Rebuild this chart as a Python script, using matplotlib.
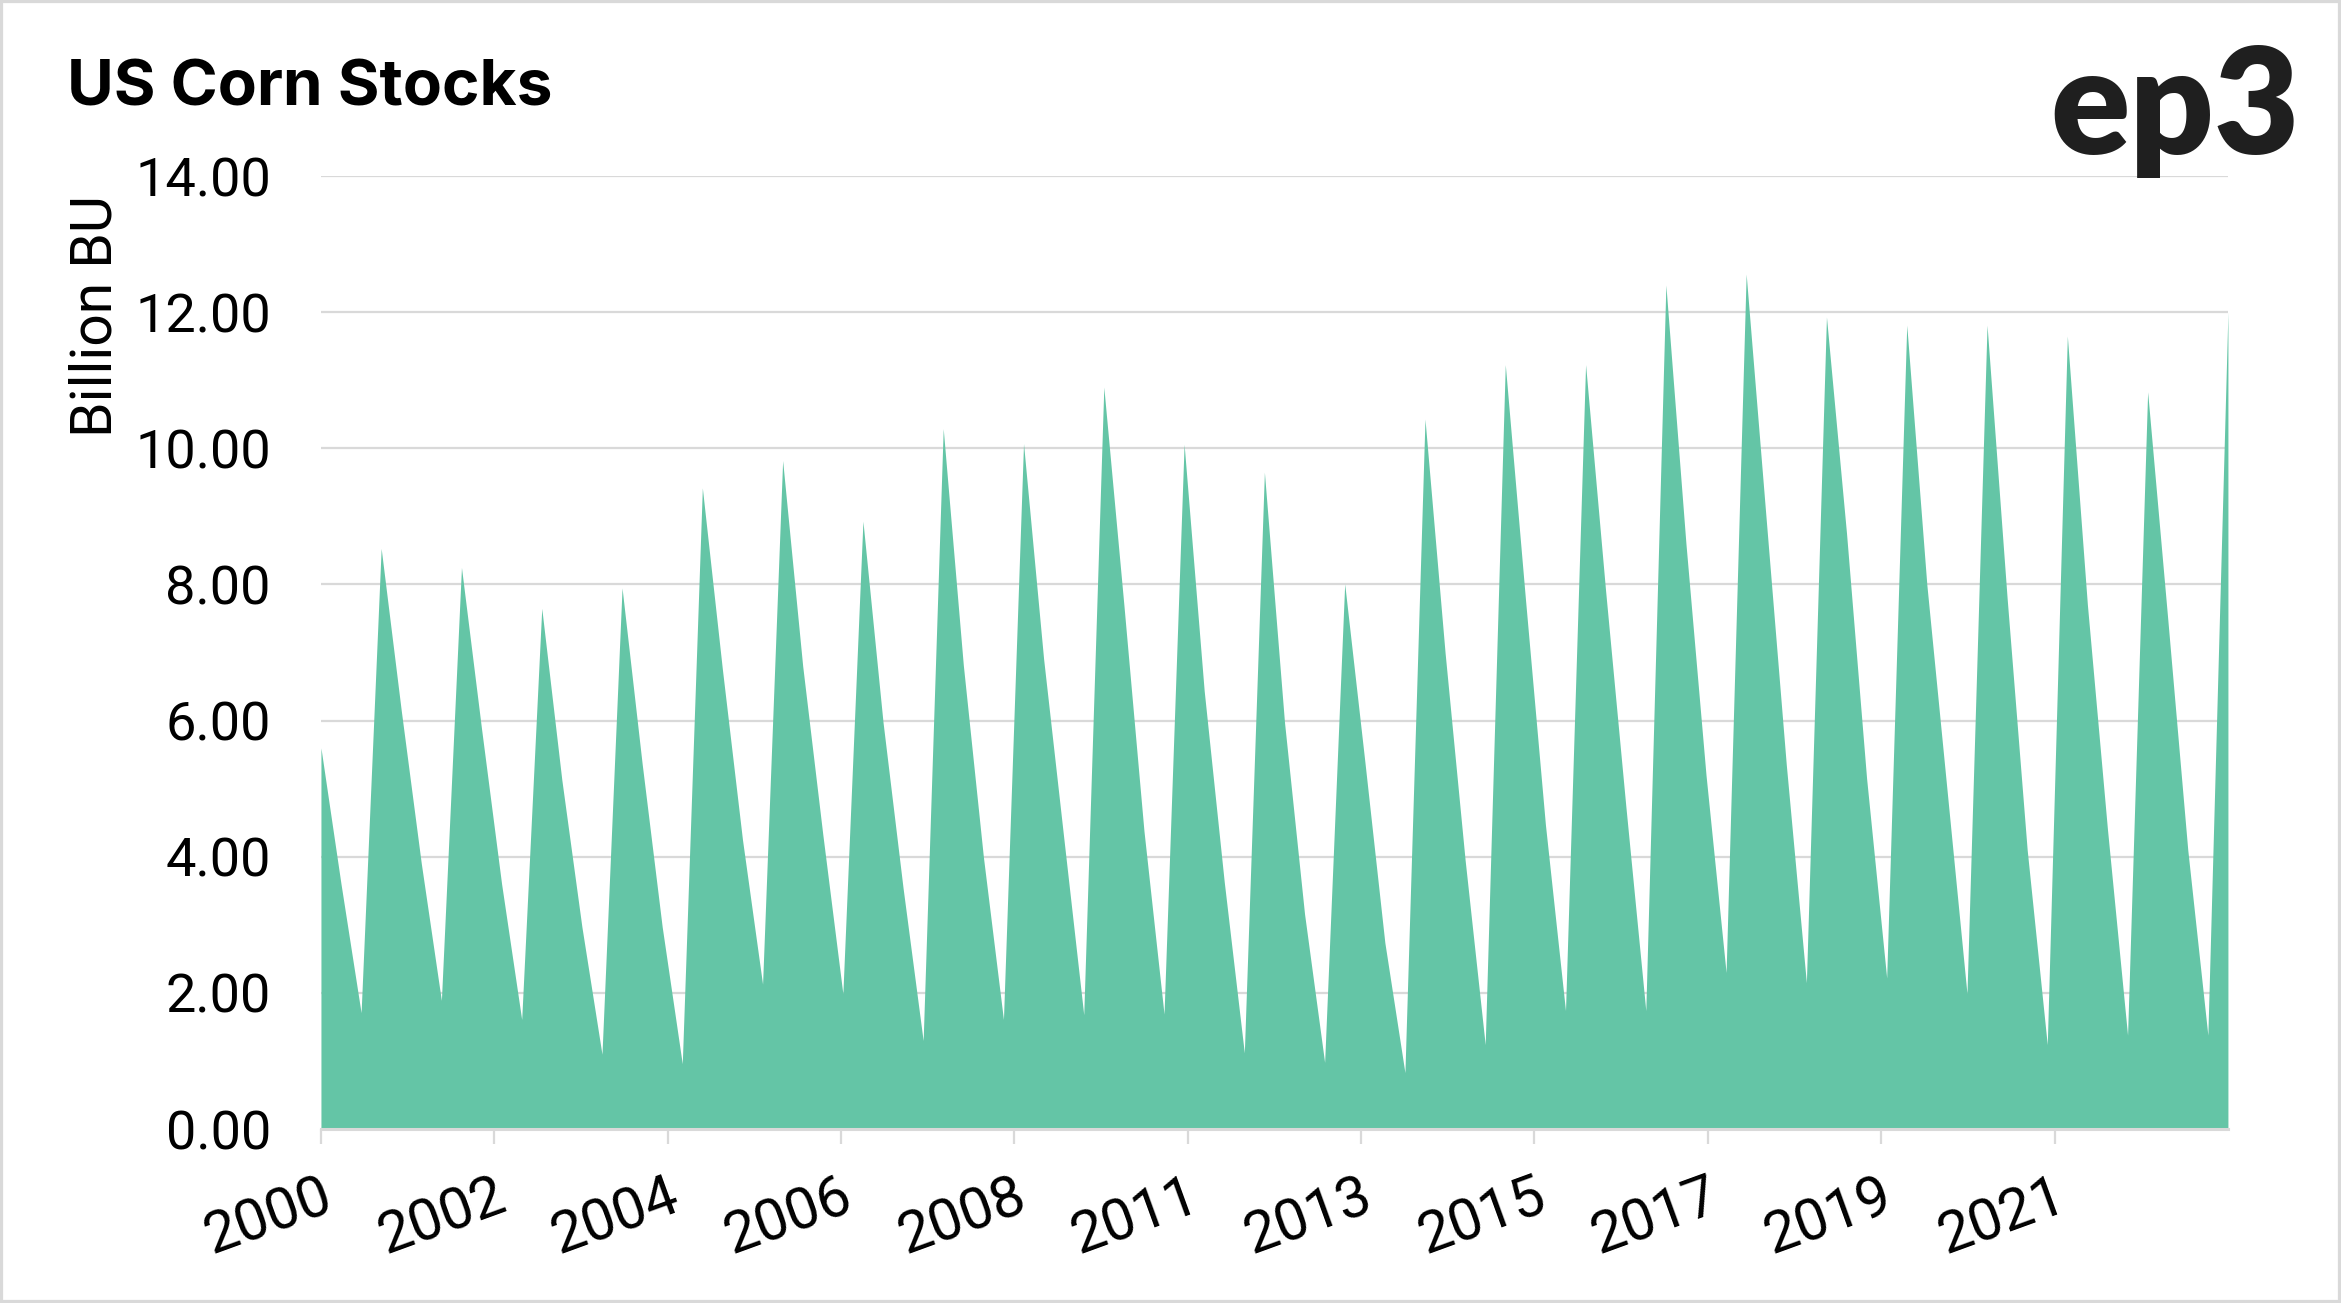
import matplotlib
matplotlib.use("Agg")
import matplotlib.pyplot as plt
from matplotlib.patches import Rectangle
import numpy as np

# quarterly US corn stocks, billion bushels (Mar 1, Jun 1, Sep 1, Dec 1)
years = list(range(2000, 2024))
mar_stocks = [5.60, 6.15, 5.88, 5.13, 5.37, 6.75, 6.80, 5.98, 6.82, 6.91, 7.70, 6.44,
              5.98, 5.41, 7.00, 7.80, 7.90, 8.60, 8.95, 8.75, 8.00, 7.80, 7.70, 7.50]
jun_stocks = [3.60, 3.90, 3.60, 2.97, 2.97, 4.25, 4.33, 3.54, 4.00, 4.29, 4.38, 3.63,
              3.16, 2.74, 3.95, 4.47, 4.76, 5.20, 5.35, 5.15, 5.00, 4.10, 4.40, 4.10]
sep_stocks = [1.71, 1.89, 1.61, 1.10, 0.96, 2.13, 1.99, 1.30, 1.61, 1.68, 1.69, 1.12,
              0.98, 0.83, 1.24, 1.74, 1.74, 2.30, 2.15, 2.22, 1.99, 1.24, 1.38, 1.38]
dec_stocks = [8.53, 8.25, 7.65, 7.95, 9.42, 9.82, 8.93, 10.29, 10.07, 10.90, 10.06, 9.65,
              8.01, 10.43, 11.23, 11.23, 12.40, 12.56, 11.93, 11.81, 11.81, 11.65, 10.83, 12.00]

tick_labels = ['2000', '2002', '2004', '2006', '2008', '2011', '2013', '2015', '2017', '2019', '2021']

stocks = np.column_stack([mar_stocks, jun_stocks, sep_stocks, dec_stocks]).ravel()
x = np.arange(len(stocks))

fill_col = '#64c5a6'
grid_col = '#d9d9d9'
tick_font = ['Roboto', 'DejaVu Sans']

fig = plt.figure(figsize=(23.41, 13.03), dpi=100)
ax = fig.add_axes([0.1371, 0.1335, 0.8146, 0.7314])

ax.fill_between(x, 0, stocks, color=fill_col, linewidth=0, zorder=3)

ax.set_xlim(0, len(stocks) - 1)
ax.set_ylim(0, 14)
ax.set_yticks(np.arange(0, 15, 2))
ax.set_yticklabels(['%.2f' % v for v in np.arange(0, 15, 2)])
ax.yaxis.grid(True, color=grid_col, linewidth=1.6, zorder=0)
ax.set_axisbelow(True)

ticks = np.arange(len(tick_labels)) * (len(stocks) - 1) / len(tick_labels)
ax.set_xticks(ticks)
ax.set_xticklabels(tick_labels, rotation=20, ha='right', va='top', rotation_mode='anchor')

for s in ['left', 'right', 'top']:
    ax.spines[s].set_visible(False)
ax.spines['bottom'].set_color(grid_col)
ax.spines['bottom'].set_linewidth(2.2)
ax.spines['bottom'].set_zorder(4)

ax.tick_params(axis='y', length=0, pad=36, labelsize=39)
ax.tick_params(axis='x', length=11, width=1.6, color=grid_col, pad=18, labelsize=42)
for lab in ax.get_xticklabels() + ax.get_yticklabels():
    lab.set_family(tick_font)
    lab.set_color('black')

# titles and labels
fig.text(67 / 2341, 1 - 105 / 1303, 'US Corn Stocks', fontsize=46, fontweight='bold',
         family=['Inter', 'DejaVu Sans'], ha='left', va='baseline', color='black')
fig.text(96 / 2341, 1 - 316 / 1303, 'Billion BU', fontsize=41, rotation=90,
         family=tick_font, ha='center', va='center', color='black')
fig.text(2300 / 2341, 1 - 154 / 1303, 'ep3', fontsize=106, fontweight='heavy',
         family=['Lato', 'DejaVu Sans'], ha='right', va='baseline', color='#1f1f1f')

# light frame around the figure
fig.patches.append(Rectangle((0, 0), 1, 1, transform=fig.transFigure, fill=False,
                             edgecolor=grid_col, linewidth=4.5))

fig.savefig('out.png', dpi=100)
